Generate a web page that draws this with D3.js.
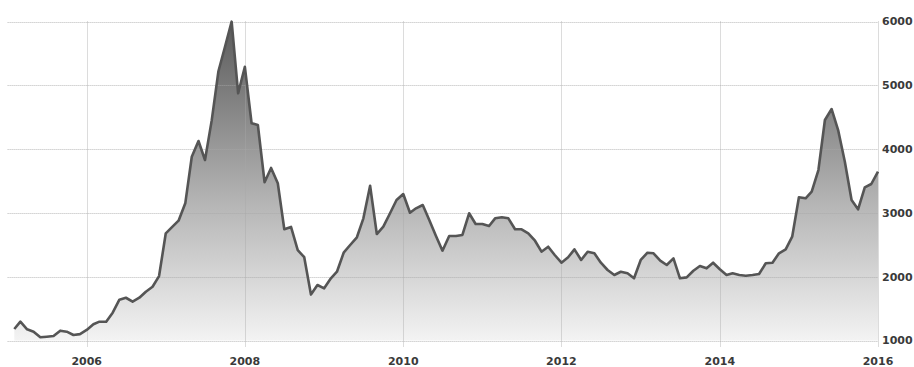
<!DOCTYPE html>
<html>
<head>
<meta charset="utf-8">
<script src="https://cdn.jsdelivr.net/npm/d3@7"></script>
<style>
  body { margin: 0; background: #fff; }
  svg { display: block; }
</style>
</head>
<body>
<svg id="chart"></svg>
<script>
// monthly values, Feb 2005 .. Jan 2016
const values2005 = [1180, 1295, 1175, 1138, 1050, 1060, 1070, 1154, 1138, 1086, 1100];
const values2006 = [1165, 1254, 1295, 1295, 1436, 1640, 1670, 1610, 1671, 1765, 1843, 2010];
const values2007 = [2680, 2784, 2878, 3150, 3880, 4127, 3829, 4450, 5220, 5600, 5997, 4875];
const values2008 = [5290, 4405, 4378, 3480, 3705, 3464, 2743, 2780, 2418, 2305, 1720, 1870];
const values2009 = [1818, 1975, 2078, 2376, 2497, 2618, 2915, 3426, 2669, 2784, 2994, 3202];
const values2010 = [3296, 3003, 3072, 3124, 2889, 2638, 2408, 2638, 2638, 2654, 2994, 2826];
const values2011 = [2826, 2795, 2915, 2931, 2915, 2743, 2743, 2680, 2564, 2392, 2470, 2340];
const values2012 = [2219, 2304, 2429, 2262, 2392, 2367, 2219, 2105, 2027, 2078, 2053, 1975];
const values2013 = [2262, 2376, 2367, 2251, 2183, 2288, 1975, 1990, 2094, 2168, 2131, 2219];
const values2014 = [2116, 2027, 2053, 2027, 2016, 2027, 2043, 2210, 2219, 2367, 2429, 2627];
const values2015 = [3245, 3229, 3332, 3672, 4456, 4628, 4299, 3802, 3202, 3056, 3401, 3453];
const values2016 = [3646];

const yTicks = [1000, 2000, 3000, 4000, 5000, 6000];
const xTickYears = [2006, 2008, 2010, 2012, 2014, 2016];

const allValues = [].concat(values2005, values2006, values2007, values2008, values2009,
  values2010, values2011, values2012, values2013, values2014, values2015, values2016);
const months = d3.timeMonth.range(new Date(2005, 1, 1), new Date(2016, 1, 1));
const data = months.map((d, i) => ({ date: d, value: allValues[i] }));

const width = 914, height = 367;
const margin = { top: 21.5, right: 36, bottom: 26.5, left: 7.6 };

const svg = d3.select("#chart").attr("width", width).attr("height", height);

const x = d3.scaleTime()
  .domain([new Date(2005, 0, 1), new Date(2016, 0, 1)])
  .range([margin.left, width - margin.right]);
const y = d3.scaleLinear()
  .domain([1000, 6000])
  .range([height - margin.bottom, margin.top]);

const defs = svg.append("defs");
const grad = defs.append("linearGradient")
  .attr("id", "fillGrad")
  .attr("gradientUnits", "userSpaceOnUse")
  .attr("x1", 0).attr("x2", 0)
  .attr("y1", y(6000)).attr("y2", y(1000));
grad.append("stop").attr("offset", "0%").attr("stop-color", "#5a5a5a");
grad.append("stop").attr("offset", "55%").attr("stop-color", "#b2b2b2");
grad.append("stop").attr("offset", "100%").attr("stop-color", "#f3f3f3");

// area
const area = d3.area()
  .x((d) => x(d.date))
  .y0(y(1000))
  .y1((d) => y(d.value));
svg.append("path").datum(data).attr("d", area).attr("fill", "url(#fillGrad)");

// grid
svg.append("g")
  .selectAll("line")
  .data(yTicks)
  .join("line")
  .attr("x1", margin.left)
  .attr("x2", width - margin.right)
  .attr("y1", (d) => Math.round(y(d)) + 0.5)
  .attr("y2", (d) => Math.round(y(d)) + 0.5)
  .attr("stroke", "#a8a8a8")
  .attr("stroke-opacity", 0.8)
  .attr("stroke-dasharray", "1,1");

svg.append("g")
  .selectAll("line")
  .data(xTickYears)
  .join("line")
  .attr("x1", (d) => Math.round(x(new Date(d, 0, 1))) + 0.5)
  .attr("x2", (d) => Math.round(x(new Date(d, 0, 1))) + 0.5)
  .attr("y1", margin.top)
  .attr("y2", height - margin.bottom + 6)
  .attr("stroke", "#a8a8a8")
  .attr("stroke-opacity", 0.8)
  .attr("stroke-dasharray", "1,1");

// line
const line = d3.line()
  .x((d) => x(d.date))
  .y((d) => y(d.value));
svg.append("path")
  .datum(data)
  .attr("d", line)
  .attr("fill", "none")
  .attr("stroke", "#555")
  .attr("stroke-width", 2.6)
  .attr("stroke-linejoin", "round");

// y labels (right)
svg.append("g")
  .selectAll("text")
  .data(yTicks)
  .join("text")
  .attr("x", width - margin.right + 4)
  .attr("y", (d) => y(d))
  .attr("dy", "0.36em")
  .attr("font-family", "DejaVu Sans, sans-serif")
  .attr("font-size", "11px")
  .attr("font-weight", "bold")
  .attr("fill", "#3a3a3a")
  .text((d) => d);

// x labels
svg.append("g")
  .selectAll("text")
  .data(xTickYears)
  .join("text")
  .attr("x", (d) => x(new Date(d, 0, 1)))
  .attr("y", height - 2)
  .attr("text-anchor", "middle")
  .attr("font-family", "DejaVu Sans, sans-serif")
  .attr("font-size", "11px")
  .attr("font-weight", "bold")
  .attr("fill", "#3a3a3a")
  .text((d) => d);
</script>
</body>
</html>
